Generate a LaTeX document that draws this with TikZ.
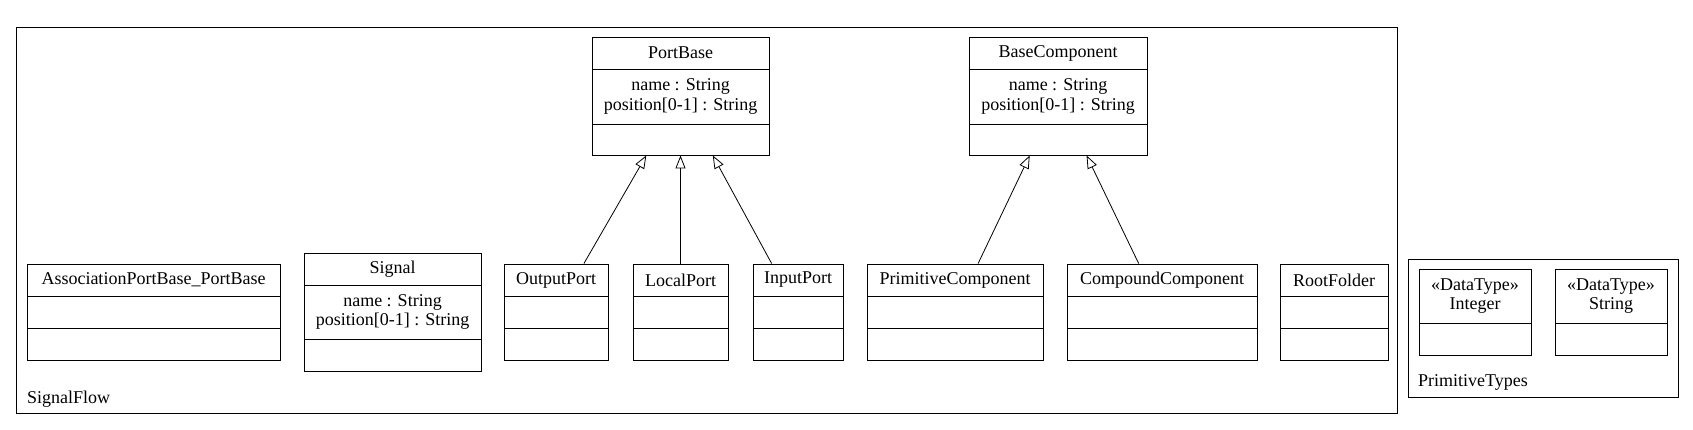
\documentclass[tikz,border=0pt]{standalone}
\usepackage{fontspec}
\setmainfont{Liberation Serif}
\usetikzlibrary{arrows.meta}
\tikzset{
  boxframe/.style={draw, line width=0.9pt, rectangle, inner sep=0pt, fill=none},
  pkgframe/.style={draw, line width=1pt, rectangle, inner sep=0pt},
  txt/.style={align=center, inner sep=0pt, font=\fontsize{18}{19.5}\selectfont},
  divline/.style={line width=0.9pt},
  gen/.style={line width=0.8pt, -{Triangle[open, length=13pt, width=10pt, line width=0.8pt]}, fill=white}
}
% name, x1, y1, x2, y2, d1, d2, title
\newcommand\umlbox[8]{%
  \node[boxframe, minimum width={(#4-#2)*1pt}, minimum height={(#5-#3)*1pt}] (#1) at ({(#2+#4)/2},{(#3+#5)/2}) {};
  \draw[divline] (#2,#6) -- (#4,#6);
  \draw[divline] (#2,#7) -- (#4,#7);
  \node[txt] (#1-name) at ({(#2+#4)/2},{(#3+#6)/2}) {#8};
}
% name, x1, x2, d1, d2
\newcommand\umlattrs[5]{%
  \node[txt] (#1-attr) at ({(#2+#3)/2},{(#4+#5)/2}) {name : String\\position[0-1] : String};
}
% name, x1, y1, x2, y2, d1, title
\newcommand\umldt[7]{%
  \node[boxframe, minimum width={(#4-#2)*1pt}, minimum height={(#5-#3)*1pt}] (#1) at ({(#2+#4)/2},{(#3+#5)/2}) {};
  \draw[divline] (#2,#6) -- (#4,#6);
  \node[txt] (#1-name) at ({(#2+#4)/2},{(#3+#6)/2}) {#7};
}
\begin{document}
\begin{tikzpicture}[x=1pt, y=-1pt]
\useasboundingbox (0,0) rectangle (1693,429);
% packages
\node[pkgframe, minimum width=1381pt, minimum height=386pt] (signalflow) at ({(16+1397)/2},{(27+413)/2}) {};
\node[txt, anchor=west] (signalflow-label) at (27,399) {SignalFlow};
\node[pkgframe, minimum width=270pt, minimum height=138pt] (primtypes) at ({(1408+1678)/2},{(259+397)/2}) {};
\node[txt, anchor=west] (primtypes-label) at (1418,382) {PrimitiveTypes};
% classes
\umlbox{portbase}{592}{37}{769}{155}{69}{124}{PortBase}
\umlattrs{portbase}{592}{769}{69}{124}
\umlbox{basecomp}{969}{37}{1147}{155}{69}{124}{BaseComponent}
\umlattrs{basecomp}{969}{1147}{69}{124}
\umlbox{assoc}{27}{264}{280}{360}{296}{328}{AssociationPortBase\_PortBase}
\umlbox{signal}{304}{253}{481}{371}{285}{339}{Signal}
\umlattrs{signal}{304}{481}{285}{339}
\umlbox{outport}{504}{264}{608}{360}{296}{328}{OutputPort}
\umlbox{localport}{633}{264}{728}{360}{296}{328}{LocalPort}
\umlbox{inport}{753}{264}{843}{360}{296}{328}{InputPort}
\umlbox{primcomp}{867}{264}{1043}{360}{296}{328}{PrimitiveComponent}
\umlbox{compcomp}{1067}{264}{1257}{360}{296}{328}{CompoundComponent}
\umlbox{rootfolder}{1280}{264}{1388}{360}{296}{328}{RootFolder}
% data types
\umldt{integer}{1419}{269}{1531}{355}{323}{«DataType»\\Integer}
\umldt{string}{1555}{269}{1667}{355}{323}{«DataType»\\String}
% generalizations
\draw[gen] (outport) -- (portbase);
\draw[gen] (localport) -- (portbase);
\draw[gen] (inport) -- (portbase);
\draw[gen] (primcomp) -- (basecomp);
\draw[gen] (compcomp) -- (basecomp);
\end{tikzpicture}
\end{document}
